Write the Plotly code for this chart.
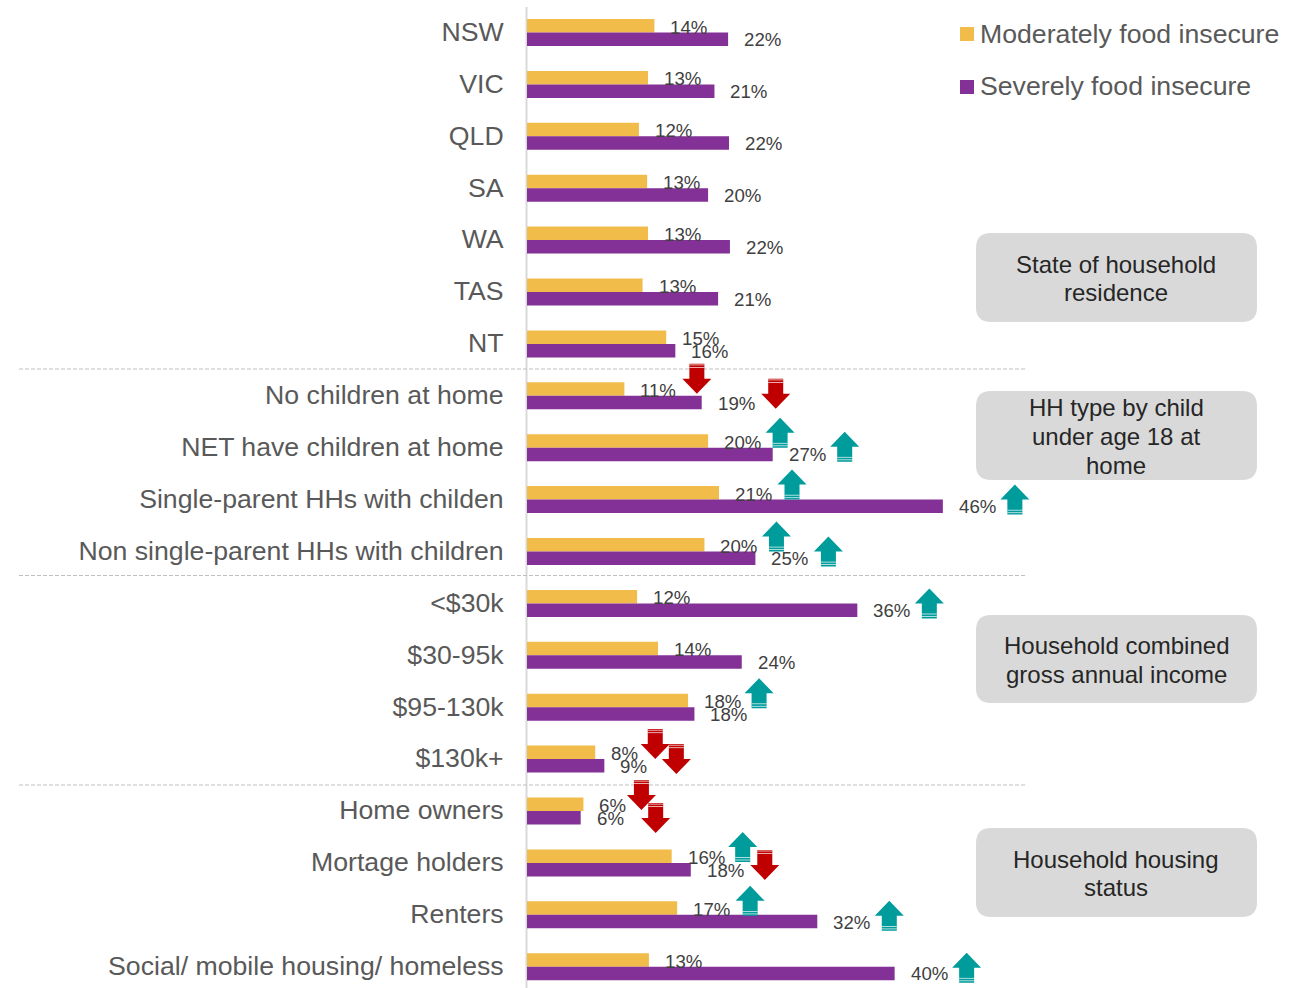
import plotly.graph_objects as go

# ---- data ----
categories = ["NSW", "VIC", "QLD", "SA", "WA", "TAS", "NT",
              "No children at home", "NET have children at home",
              "Single-parent HHs with childen", "Non single-parent HHs with children",
              "<$30k", "$30-95k", "$95-130k", "$130k+",
              "Home owners", "Mortage holders", "Renters", "Social/ mobile housing/ homeless"]
moderate = [14.0, 13.3, 12.3, 13.2, 13.3, 12.7, 15.3, 10.7, 19.9, 21.1, 19.5,
            12.1, 14.4, 17.7, 7.5, 6.2, 15.9, 16.5, 13.4]
severe = [22.1, 20.6, 22.2, 19.9, 22.3, 21.0, 16.3, 19.2, 27.0, 45.7, 25.1,
          36.3, 23.6, 18.4, 8.5, 5.9, 18.0, 31.9, 40.4]
moderate_labels = ["14%", "13%", "12%", "13%", "13%", "13%", "15%", "11%", "20%", "21%", "20%",
                   "12%", "14%", "18%", "8%", "6%", "16%", "17%", "13%"]
severe_labels = ["22%", "21%", "22%", "20%", "22%", "21%", "16%", "19%", "27%", "46%", "25%",
                 "36%", "24%", "18%", "9%", "6%", "18%", "32%", "40%"]
series_names = ["Moderately food insecure", "Severely food insecure"]
# significance arrows: row -> direction
moderate_arrows = {7: "down", 8: "up", 9: "up", 10: "up", 13: "up", 14: "down", 15: "down", 16: "up", 17: "up"}
severe_arrows = {7: "down", 8: "up", 9: "up", 10: "up", 11: "up", 14: "down", 15: "down", 16: "down", 17: "up", 18: "up"}
group_titles = [["State of household", "residence"],
                ["HH type by child", "under age 18 at", "home"],
                ["Household combined", "gross annual income"],
                ["Household housing", "status"]]

# ---- layout constants (pixels) ----
W, H = 1293, 988
X0, PX_PER_UNIT = 527, 9.1
ROW0, ROW_STEP = 32.5, 51.9
YELLOW, PURPLE = "#F2BC4A", "#833196"
TEAL, RED = "#009B9B", "#C00000"
FONT = "Liberation Sans"
# arrow offsets from (bar end, row centre) in px: dx right, dy down
mod_arrow_nudge = {7: (72.5, -17), 8: (72, -15), 9: (73, -15), 10: (72, -15), 13: (71, -14),
                   14: (60, -15), 15: (58, -16), 16: (71, -16), 17: (73, -14)}
sev_arrow_nudge = {7: (74, -2), 8: (72, -1), 9: (72, 0), 10: (73, 0), 11: (72, 0),
                   14: (72, 0), 15: (75, 7), 16: (74, 2), 17: (72, 1), 18: (72, 1)}
box_tops = [(233, 322), (391, 480), (615, 703), (828, 917)]
line_ys = [[264.3, 292.5], [407.3, 436.3, 465.3], [645.3, 674.3], [859.3, 887.5]]
sep_ys = [369, 575.5, 785]


def px(x):
    return x / W


def py(y):
    return 1 - y / H


rows = list(range(len(categories)))
fig = go.Figure()
fig.add_bar(y=rows, x=moderate, orientation="h", marker=dict(color=YELLOW, line=dict(width=0)),
            name=series_names[0], showlegend=False, hoverinfo="skip")
fig.add_bar(y=rows, x=severe, orientation="h", marker=dict(color=PURPLE, line=dict(width=0)),
            name=series_names[1], showlegend=False, hoverinfo="skip")

annotations, shapes = [], []


def label(x, y, text, **kw):
    annotations.append(dict(x=x, y=y, text=text, showarrow=False, yanchor="middle", **kw))


for r in rows:
    label(moderate[r], r, moderate_labels[r], xref="x", yref="y", xanchor="left", xshift=14, yshift=5.5,
          font=dict(family=FONT, size=18.67, color="#404040"))
    label(severe[r], r, severe_labels[r], xref="x", yref="y", xanchor="left", xshift=14, yshift=-7.2,
          font=dict(family=FONT, size=18.67, color="#404040"))


def arrow_shapes(value, row, direction, dx, dy):
    s = 1 if direction == "up" else -1   # +y is upward in pixel mode
    cy = -dy
    color = TEAL if direction == "up" else RED
    hw, sw, hh = 14.5, 7.5, 15
    tip, base = cy + s * 15, cy - s * 15
    neck = tip - s * hh
    path = (f"M{dx},{tip} L{dx+hw},{neck} L{dx+sw},{neck} L{dx+sw},{base} "
            f"L{dx-sw},{base} L{dx-sw},{neck} L{dx-hw},{neck} Z")
    common = dict(type="path", xref="x", yref="y", xsizemode="pixel", ysizemode="pixel",
                  xanchor=value, yanchor=row, layer="above")
    shapes.append(dict(path=path, fillcolor=color, line=dict(width=0), **common))
    # thin pale stripes near the tail
    for off in (1.5, 4.0):
        yy = base + s * off
        stripe = f"M{dx-sw},{yy} L{dx+sw},{yy} L{dx+sw},{yy+0.8} L{dx-sw},{yy+0.8} Z"
        shapes.append(dict(path=stripe, fillcolor="white", opacity=0.85, line=dict(width=0), **common))


for r, d in moderate_arrows.items():
    arrow_shapes(moderate[r], r, d, *mod_arrow_nudge[r])
for r, d in severe_arrows.items():
    arrow_shapes(severe[r], r, d, *sev_arrow_nudge[r])

# vertical axis line
shapes.append(dict(type="line", xref="paper", yref="paper", x0=px(526.5), x1=px(526.5), y0=py(7), y1=py(988),
                   line=dict(color="#D9D9D9", width=2), layer="below"))
# dashed group separators
for y in sep_ys:
    shapes.append(dict(type="line", xref="paper", yref="paper", x0=px(19), x1=px(1025), y0=py(y), y1=py(y),
                       line=dict(color="#BFBFBF", width=1, dash="4px,2px"), layer="below"))


def rounded(x0, y0, x1, y1, r=15):
    return (f"M{px(x0+r)},{py(y0)} L{px(x1-r)},{py(y0)} Q{px(x1)},{py(y0)} {px(x1)},{py(y0+r)} "
            f"L{px(x1)},{py(y1-r)} Q{px(x1)},{py(y1)} {px(x1-r)},{py(y1)} "
            f"L{px(x0+r)},{py(y1)} Q{px(x0)},{py(y1)} {px(x0)},{py(y1-r)} "
            f"L{px(x0)},{py(y0+r)} Q{px(x0)},{py(y0)} {px(x0+r)},{py(y0)} Z")


for (t, b), lines, ys in zip(box_tops, group_titles, line_ys):
    shapes.append(dict(type="path", xref="paper", yref="paper", path=rounded(976, t, 1257, b),
                       fillcolor="#D9D9D9", line=dict(width=0), layer="below"))
    for text, y in zip(lines, ys):
        label(px(1116), py(y), text, xref="paper", yref="paper", xanchor="center",
              font=dict(family=FONT, size=24, color="#262626"))

# legend
for name, color, y, ty in zip(series_names, (YELLOW, PURPLE), (34, 87), (34, 86)):
    shapes.append(dict(type="rect", xref="paper", yref="paper", x0=px(960), x1=px(974), y0=py(y - 7), y1=py(y + 7),
                       fillcolor=color, line=dict(width=0)))
    label(px(978), py(ty), name, xref="paper", yref="paper", xanchor="left",
          font=dict(family=FONT, size=26.67, color="#595959"))

top = -ROW0 / ROW_STEP
bottom = (H - ROW0) / ROW_STEP
fig.update_layout(
    width=W, height=H, autosize=False, margin=dict(l=0, r=0, t=0, b=0, pad=0),
    barmode="group", bargap=0.48, bargroupgap=0,
    paper_bgcolor="white", plot_bgcolor="white",
    font=dict(family=FONT), annotations=annotations, shapes=shapes,
    xaxis=dict(domain=[X0 / W, 1], range=[0, (W - X0) / PX_PER_UNIT], visible=False, fixedrange=True),
    yaxis=dict(domain=[0, 1], range=[bottom, top], tickmode="array", tickvals=rows, ticktext=categories,
               ticks="outside", ticklen=17, tickcolor="rgba(0,0,0,0)", showline=False, showgrid=False,
               zeroline=False, automargin=False, fixedrange=True, ticklabelshift=1,
               tickfont=dict(family=FONT, size=26.67, color="#595959")),
)
fig.write_html("out.html", config=dict(displayModeBar=False),
               post_script="document.body.style.margin='0';document.body.style.overflow='hidden';")
